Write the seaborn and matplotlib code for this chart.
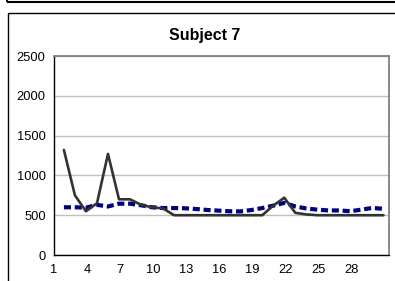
import pandas as pd
import seaborn as sns
import matplotlib.pyplot as plt
from matplotlib.patches import Rectangle

# Data
days = list(range(1, 31))
actual = [1320, 750, 550, 650, 1270, 700, 700, 630, 600, 585,
          500, 500, 500, 500, 500, 500, 500, 500, 500, 620,
          720, 530, 510, 500, 500, 500, 500, 500, 500, 500]
trend = [600, 600, 595, 630, 610, 645, 645, 625, 600, 590,
         590, 587, 578, 566, 558, 550, 548, 565, 590, 620,
         655, 610, 585, 570, 560, 560, 550, 570, 592, 580]
tick_labels = [1, 4, 7, 10, 13, 16, 19, 22, 25, 28]
y_ticks = [0, 500, 1000, 1500, 2000, 2500]

df = pd.DataFrame({"day": days, "actual": actual, "trend": trend})

sns.set_style("white")
plt.rcParams["font.family"] = ["Liberation Sans", "DejaVu Sans"]
plt.rcParams["text.color"] = "black"

fig = plt.figure(figsize=(3.95, 2.81), dpi=100)
ax = fig.add_axes([0.1367, 0.0925, 0.848, 0.708])

sns.lineplot(data=df, x="day", y="trend", ax=ax, color="#000080",
             linewidth=3, linestyle=(0, (1.7, 0.9)))
sns.lineplot(data=df, x="day", y="actual", ax=ax, color="#333333",
             linewidth=1.9)
ax.lines[0].set_dash_capstyle("butt")

ax.set_xlim(0.5, 30.5)
ax.set_ylim(0, 2500)
ax.set_xlabel("")
ax.set_ylabel("")

# y axis
ax.set_yticks(y_ticks)
ax.tick_params(axis="y", direction="out", length=3.5, width=1,
               labelsize=9.3, colors="black", pad=2.5)
ax.yaxis.grid(True, color="#c0c0c0", linewidth=1)
ax.set_axisbelow(True)

# x axis: labels every 3rd category, tick marks between categories
ax.set_xticks([k - 0.9 for k in tick_labels])
ax.set_xticklabels([str(k) for k in tick_labels])
ax.set_xticks([d + 0.5 for d in range(0, 31)], minor=True)
ax.tick_params(axis="x", which="major", length=0, labelsize=9.3, pad=6.5,
               labelcolor="black")
ax.tick_params(axis="x", which="minor", direction="out", length=3.5,
               width=1, color="black")

for side in ["left", "bottom"]:
    ax.spines[side].set_color("black")
    ax.spines[side].set_linewidth(1)
for side in ["top", "right"]:
    ax.spines[side].set_color("#808080")
    ax.spines[side].set_linewidth(1.3)

fig.text(0.519, 0.875, "Subject 7", ha="center", va="center",
         fontsize=11.5, fontweight="bold", color="black")

# chart border, plus the edge of the chart above
fig.add_artist(Rectangle((8 / 395, -0.5), 2, 1 - 12.5 / 281 + 0.5,
                         transform=fig.transFigure, fill=False,
                         lw=1, ec="black"))
fig.add_artist(Rectangle((7 / 395, 1 - 1.5 / 281), 2, 1,
                         transform=fig.transFigure, fill=False,
                         lw=1.5, ec="black"))

fig.savefig("out.png", dpi=100, facecolor="white")
